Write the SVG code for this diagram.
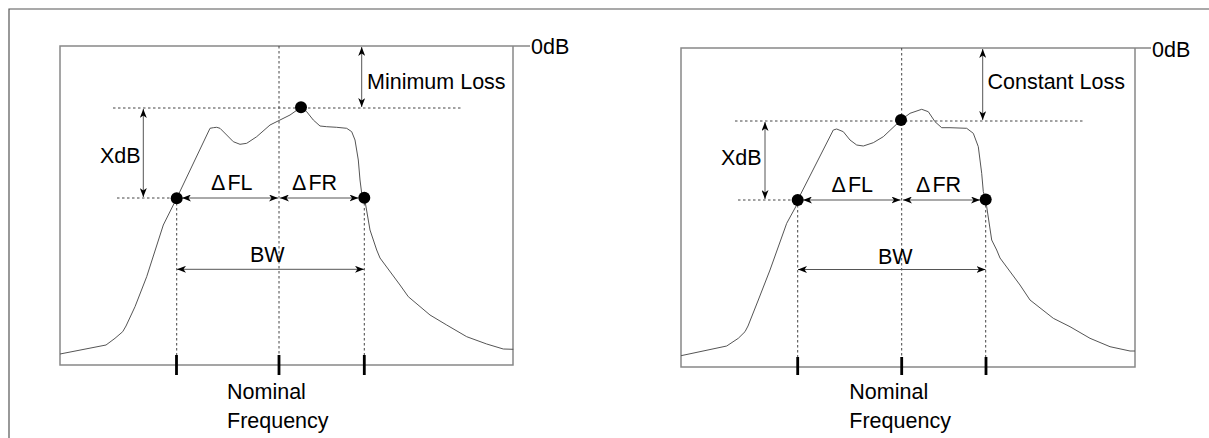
<svg xmlns="http://www.w3.org/2000/svg" width="1209" height="438" viewBox="0 0 1209 438">
<style>
.frame{fill:none;stroke:#555;stroke-width:1.2}
.box{fill:none;stroke:#888;stroke-width:1.5}
.curve{fill:none;stroke:#555;stroke-width:1;stroke-linejoin:round}
.dash{fill:none;stroke:#444;stroke-width:1;stroke-dasharray:2.5,2.5}
.arr{fill:none;stroke:#555;stroke-width:1;marker-start:url(#ah);marker-end:url(#ah)}
.tick{stroke:#000;stroke-width:2.8}
.dot{fill:#000}
text{font-family:"Liberation Sans",Arial,sans-serif;font-size:21.5px;fill:#000}
</style>
<defs>
<marker id="ah" viewBox="0 0 9 7" refX="9" refY="3.5" markerWidth="9" markerHeight="7" markerUnits="userSpaceOnUse" orient="auto-start-reverse">
<path d="M0,0 L9,3.5 L0,7 L2.5,3.5 Z" fill="#000"/>
</marker>
</defs>
<g id="frame">
<path class="frame" d="M9,438 V9 H1209"/>
</g>
<g id="left-panel">
<path class="box" d="M530,46 H60 V365 H513 V46"/>
<g id="left-dashes">
<path class="dash" d="M279,46 V355"/>
<path class="dash" d="M113,108 H463"/>
<path class="dash" d="M117,198 H176"/>
<path class="dash" d="M176.7,198 V355"/>
<path class="dash" d="M364.3,198 V355"/>
</g>
<path class="curve" d="M60,354 L106,345 L115,338.3 L122.7,331.7 L126,326 L135,306.7 L146.7,276.7 L163.3,225 L173.3,205 L176.7,198.3 L210,128.3 L213.3,127.7 L216.7,127.3 L220,128.3 L226.7,135 L233.3,141.7 L240,144.3 L246.7,143.3 L256.7,136.7 L270,125 L280,120 L290,115 L301,107.3 L306.7,111.7 L313.3,120 L320,126 L326.7,126.7 L336.7,127.3 L346.7,128.3 L351.7,131.7 L355,140 L358.3,160 L360,180 L361.7,193.3 L364.3,197.7 L365.7,205 L370,230 L376.7,250 L380,258 L400,285 L408.3,296.7 L430,315 L446.7,325 L466.7,336.7 L486.7,344 L503.3,349 L513.3,349.3"/>
<g id="left-arrows">
<path class="arr" d="M361.7,47 V107"/>
<path class="arr" d="M143.3,109 V197"/>
<path class="arr" d="M182,198 H278"/>
<path class="arr" d="M280,198 H358.5"/>
<path class="arr" d="M177,269.3 H364"/>
</g>
<circle class="dot" cx="301" cy="107.3" r="6"/>
<circle class="dot" cx="176.7" cy="198.3" r="6"/>
<circle class="dot" cx="364.3" cy="197.7" r="6"/>
<path class="tick" d="M176.5,355 V375 M279,355 V375 M364.3,355 V375"/>
<text x="531" y="54">0dB</text>
<text x="367" y="89">Minimum Loss</text>
<text x="100" y="163">XdB</text>
<text x="211" y="190">Δ<tspan dx="2">FL</tspan></text>
<text x="292" y="190">Δ<tspan dx="2">FR</tspan></text>
<text x="250" y="262">BW</text>
<text x="227" y="399">Nominal</text>
<text x="227" y="428">Frequency</text>
</g>
<g id="right-panel">
<path class="box" d="M1151,48 H681 V367 H1135 V48"/>
<g id="right-dashes">
<path class="dash" d="M901.7,48 V357"/>
<path class="dash" d="M735,121 H1085"/>
<path class="dash" d="M738,200 H797"/>
<path class="dash" d="M797.7,200 V357"/>
<path class="dash" d="M985.7,200 V357"/>
</g>
<path class="curve" d="M681,355.7 L726.7,346 L738.3,338.3 L745,331.7 L748,326 L758.3,300 L770,270 L786.7,223.3 L796.7,205 L797.7,200 L833.3,130 L836.7,129 L843.3,131.7 L850,140 L856.7,145 L863.3,146 L873.3,142.7 L883.3,136.7 L901,120 L910,113.3 L921.7,109.3 L928.3,111.7 L935,121.7 L941.7,127.7 L950,127.7 L966.7,128.3 L973.3,133.3 L978.3,146.7 L981.7,173.3 L983.3,191.7 L985.7,199.3 L986.7,206.7 L991.7,240 L996.7,250 L1000,258 L1020,285 L1030,300 L1053.3,318.3 L1070,326.7 L1090,338.3 L1110,346.7 L1130,351 L1135,351"/>
<g id="right-arrows">
<path class="arr" d="M982.7,49 V120"/>
<path class="arr" d="M765,122 V199"/>
<path class="arr" d="M803,200 H900.5"/>
<path class="arr" d="M903,200 H980"/>
<path class="arr" d="M798,269.5 H985.5"/>
</g>
<circle class="dot" cx="901" cy="120" r="6"/>
<circle class="dot" cx="797.7" cy="200" r="6"/>
<circle class="dot" cx="985.7" cy="199.5" r="6"/>
<path class="tick" d="M797.7,357 V375 M901.7,357 V375 M986,357 V375"/>
<text x="1152" y="56.5">0dB</text>
<text x="987.5" y="89">Constant Loss</text>
<text x="721" y="165">XdB</text>
<text x="831.5" y="191.5">Δ<tspan dx="2">FL</tspan></text>
<text x="916" y="191.5">Δ<tspan dx="2">FR</tspan></text>
<text x="878" y="264">BW</text>
<text x="849.3" y="398.5">Nominal</text>
<text x="849.3" y="427.5">Frequency</text>
</g>
</svg>
